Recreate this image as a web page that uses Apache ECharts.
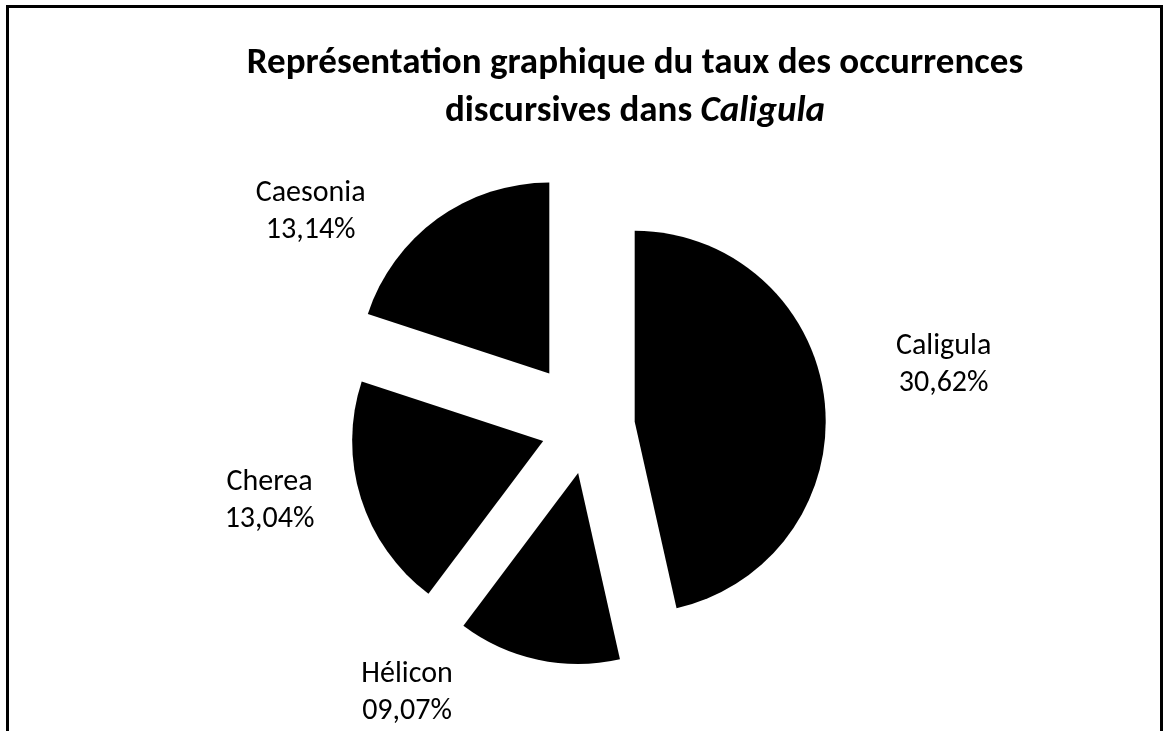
<!DOCTYPE html>
<html>
<head>
<meta charset="utf-8">
<script src="https://cdn.jsdelivr.net/npm/echarts@6/dist/echarts.min.js"></script>
<style>
  html, body { margin: 0; padding: 0; background: #fff; }
  #chart { width: 1168px; height: 731px; }
</style>
</head>
<body>
<div id="chart"></div>
<script>
// ---- data ----
const categories = ['Caligula', 'Hélicon', 'Cherea', 'Caesonia'];
const values = [30.62, 9.07, 13.04, 13.14];
const titleLine1 = 'Représentation graphique du taux des occurrences';
const titleLine2 = 'discursives dans ';
const titleItalic = 'Caligula';

// ---- layout / style ----
const FONT = 'Carlito, Lato, "Open Sans", sans-serif';
const CX = 588, CY = 427, R = 191;
const EXPLODE_DEFAULT = 47;
const explodeBy = { 'Caesonia': 66 };
// label centre placement in polar form around the pie centre (deg clockwise from top, px)
const labelPolar = {
  'Caligula': [80.1, 361],
  'Hélicon': [214.2, 322],
  'Cherea': [256.9, 327],
  'Caesonia': [307.8, 351]
};

function fmtPct(v) {
  return v.toFixed(2).padStart(5, '0').replace('.', ',');
}

const total = values.reduce((a, b) => a + b, 0);
let cum = 0;
const series = categories.map((name, k) => {
  const mid = (cum + values[k] / 2) / total * 2 * Math.PI;
  cum += values[k];
  const d = explodeBy[name] != null ? explodeBy[name] : EXPLODE_DEFAULT;
  const center = [CX + d * Math.sin(mid), CY - d * Math.cos(mid)];
  return {
    type: 'pie',
    center: center,
    radius: [0, R],
    startAngle: 90,
    clockwise: true,
    silent: true,
    emphasis: { disabled: true },
    labelLine: { show: false },
    label: {
      position: 'outside',
      color: '#000',
      fontFamily: FONT,
      fontSize: 30,
      lineHeight: 37,
      formatter: p => p.name + '\n' + fmtPct(p.value) + '%'
    },
    labelLayout: function (params) {
      const nm = categories[params.dataIndex];
      const pol = labelPolar[nm];
      const a = pol[0] * Math.PI / 180;
      return {
        x: CX + pol[1] * Math.sin(a),
        y: CY - pol[1] * Math.cos(a),
        align: 'center',
        verticalAlign: 'middle'
      };
    },
    data: categories.map((n, i) => ({
      name: n,
      value: values[i],
      itemStyle: { color: i === k ? '#000000' : 'rgba(0,0,0,0)', borderWidth: 0 },
      label: { show: i === k }
    }))
  };
});

const chart = echarts.init(document.getElementById('chart'), null, { renderer: 'canvas' });
chart.setOption({
  animation: false,
  backgroundColor: '#ffffff',
  title: {
    text: '{b|' + titleLine1 + '}\n{b|' + titleLine2 + '}{i|' + titleItalic + '}',
    left: 630,
    top: 35,
    textAlign: 'center',
    textStyle: {
      rich: {
        b: { fontFamily: FONT, fontWeight: 'bold', fontSize: 37, lineHeight: 48, color: '#000' },
        i: { fontFamily: FONT, fontWeight: 'bold', fontStyle: 'italic', fontSize: 37, lineHeight: 48, color: '#000' }
      }
    }
  },
  graphic: [{
    type: 'rect',
    silent: true,
    shape: { x: 7.5, y: 6.5, width: 1154, height: 760 },
    style: { fill: 'none', stroke: '#000', lineWidth: 3 }
  }],
  series: series
});
</script>
</body>
</html>
